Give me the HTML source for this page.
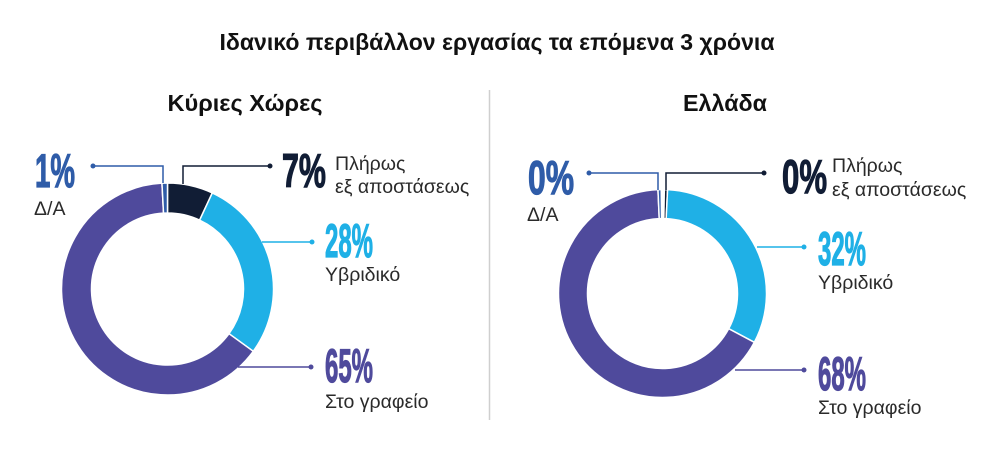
<!DOCTYPE html>
<html><head><meta charset="utf-8"><style>
html,body{margin:0;padding:0;background:#fff;}
svg{display:block;}
text{font-family:"Liberation Sans","DejaVu Sans",sans-serif;}
.big{font-family:"Liberation Sans Narrow","Liberation Sans",sans-serif;font-weight:bold;font-size:47px;stroke-width:1.2px;}
.lbl{font-size:19.5px;fill:#2a2a2a;}
</style></head><body>
<svg id="s" width="996" height="457" viewBox="0 0 996 457" xmlns="http://www.w3.org/2000/svg">
<text x="497" y="50" text-anchor="middle" font-weight="bold" font-size="23" fill="#111" textLength="555" lengthAdjust="spacingAndGlyphs">Ιδανικό περιβάλλον εργασίας τα επόμενα 3 χρόνια</text>
<text x="245" y="111" text-anchor="middle" font-weight="bold" font-size="23" fill="#111" textLength="155" lengthAdjust="spacingAndGlyphs">Κύριες Χώρες</text>
<text x="725" y="111" text-anchor="middle" font-weight="bold" font-size="23" fill="#111" textLength="84" lengthAdjust="spacingAndGlyphs">Ελλάδα</text>
<line x1="489.5" y1="90" x2="489.5" y2="420" stroke="#cfcfcf" stroke-width="1.5"/>
<g id="d"></g>
<g stroke-width="1.5" fill="none">
<polyline points="93,166 163,166 163,183" stroke="#2f5ca8"/>
<polyline points="270,166 183,166 183,184" stroke="#111d35"/>
<polyline points="262,242 312,242" stroke="#1fb0e6"/>
<polyline points="238,367 311,367" stroke="#4f4a9c"/>
<polyline points="589,173 658,173 658,190" stroke="#2f5ca8"/>
<polyline points="764,173 666,173 666,190" stroke="#111d35"/>
<polyline points="757,247 804,247" stroke="#1fb0e6"/>
<polyline points="735,370 804,370" stroke="#4f4a9c"/>
</g>
<g>
<circle cx="93" cy="166" r="2.5" fill="#2f5ca8"/><circle cx="270" cy="166" r="2.5" fill="#111d35"/>
<circle cx="312" cy="242" r="2.5" fill="#1fb0e6"/><circle cx="311" cy="367" r="2.5" fill="#4f4a9c"/>
<circle cx="589" cy="173" r="2.5" fill="#2f5ca8"/><circle cx="764" cy="173" r="2.5" fill="#111d35"/>
<circle cx="804" cy="247" r="2.5" fill="#1fb0e6"/><circle cx="804" cy="370" r="2.5" fill="#4f4a9c"/>
</g>
<text class="big" x="35" y="187" fill="#2f5ca8" stroke="#2f5ca8" textLength="40" lengthAdjust="spacingAndGlyphs">1%</text>
<text class="lbl" x="34" y="215">Δ/Α</text>
<text class="big" x="282" y="187" fill="#111d35" stroke="#111d35" textLength="44" lengthAdjust="spacingAndGlyphs">7%</text>
<text class="lbl" x="335" y="170">Πλήρως</text>
<text class="lbl" x="335" y="193">εξ αποστάσεως</text>
<text class="big" x="325" y="257" fill="#1fb0e6" stroke="#1fb0e6" textLength="48" lengthAdjust="spacingAndGlyphs">28%</text>
<text class="lbl" x="325" y="281">Υβριδικό</text>
<text class="big" x="325" y="382" fill="#4f4a9c" stroke="#4f4a9c" textLength="48" lengthAdjust="spacingAndGlyphs">65%</text>
<text class="lbl" x="325" y="408">Στο γραφείο</text>
<text class="big" x="528" y="194" fill="#2f5ca8" stroke="#2f5ca8" textLength="46" lengthAdjust="spacingAndGlyphs">0%</text>
<text class="lbl" x="527" y="221">Δ/Α</text>
<text class="big" x="782" y="193" fill="#111d35" stroke="#111d35" textLength="45" lengthAdjust="spacingAndGlyphs">0%</text>
<text class="lbl" x="832" y="172">Πλήρως</text>
<text class="lbl" x="832" y="196">εξ αποστάσεως</text>
<text class="big" x="818" y="265" fill="#1fb0e6" stroke="#1fb0e6" textLength="48" lengthAdjust="spacingAndGlyphs">32%</text>
<text class="lbl" x="818" y="289">Υβριδικό</text>
<text class="big" x="818" y="390" fill="#4f4a9c" stroke="#4f4a9c" textLength="48" lengthAdjust="spacingAndGlyphs">68%</text>
<text class="lbl" x="818" y="414">Στο γραφείο</text>
</svg>
<script>
(function(){
var g=document.getElementById('d'),NS='http://www.w3.org/2000/svg';
function arc(cx,cy,R,r,a0,a1,col){
 function p(rad,a){var t=(a-90)*Math.PI/180;return [cx+rad*Math.cos(t),cy+rad*Math.sin(t)];}
 var L=(a1-a0)>180?1:0,A=p(R,a0),B=p(R,a1),C=p(r,a1),D=p(r,a0);
 var e=document.createElementNS(NS,'path');
 e.setAttribute('d','M'+A+'A'+R+','+R+' 0 '+L+' 1 '+B+'L'+C+'A'+r+','+r+' 0 '+L+' 0 '+D+'Z');
 e.setAttribute('fill',col);e.setAttribute('stroke','#fff');e.setAttribute('stroke-width','1.5');g.appendChild(e);}
var dk='#111d35',cy='#1fb0e6',pu='#4f4a9c',na='#2f5ca8';
arc(167.5,289,106,76,0,25,dk);arc(167.5,289,106,76,25,126,cy);arc(167.5,289,106,76,126,357,pu);arc(167.5,289,106,76,357,360,na);
arc(662.5,293.5,104,75,1,2.8,dk);arc(662.5,293.5,104,75,2.8,118,cy);arc(662.5,293.5,104,75,118,357.5,pu);arc(662.5,293.5,104,75,357.5,359.3,na);
})();
</script>
</body></html>
